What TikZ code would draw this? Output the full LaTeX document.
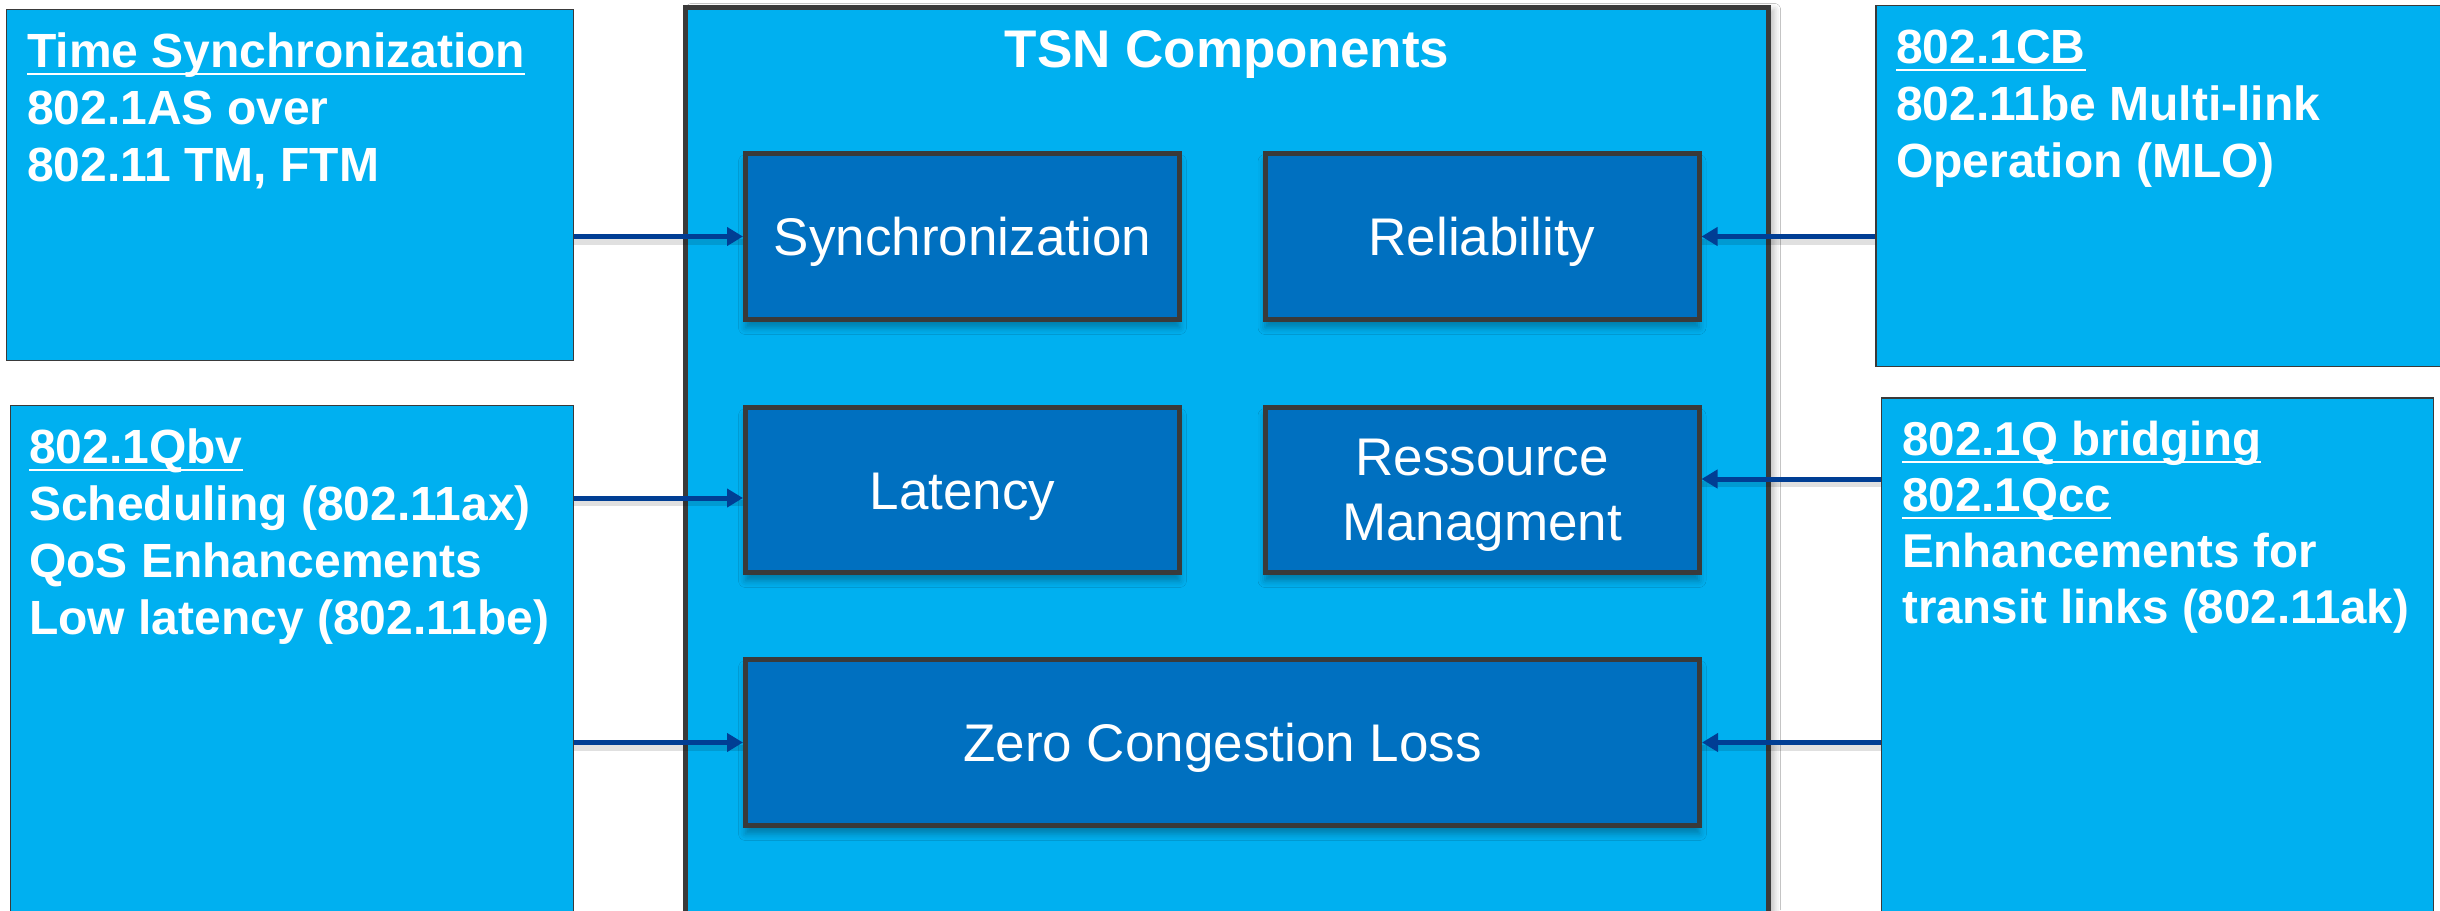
\documentclass[tikz,border=0pt]{standalone}
\usepackage{fontspec}
\setmainfont{Liberation Sans}
\usetikzlibrary{arrows.meta,shadows.blur}
\definecolor{lightblue}{HTML}{00B0F0}
\definecolor{darkblue}{HTML}{0070C0}
\definecolor{bordergray}{HTML}{3A3A3A}
\definecolor{arrowblue}{HTML}{003E94}
\newlength\ulw
\newcommand\myul[1]{\settowidth\ulw{#1}\rlap{\rule[-8pt]{\ulw}{2.5pt}}#1}
\begin{document}
\begin{tikzpicture}[x=1pt,y=-1pt,
  outerbox/.style={draw=bordergray, line width=1.5pt, fill=lightblue, inner sep=0pt},
  mainbox/.style={draw=bordergray, line width=5pt, fill=lightblue, inner sep=0pt,
    blur shadow={shadow xshift=6pt, shadow yshift=-2pt, shadow blur radius=6pt, shadow opacity=25}},
  compbox/.style={draw=bordergray, line width=5pt, fill=darkblue, text=white,
    font=\fontsize{53}{65}\selectfont, align=center, minimum width=434pt,
    minimum height=166pt, inner sep=0pt,
    blur shadow={shadow xshift=0pt, shadow yshift=-8pt, shadow blur radius=7pt, shadow opacity=30}},
  oneline/.style={text height=38pt, text depth=0pt},
  listtext/.style={anchor=base west, inner sep=0pt, text=white, font=\fontsize{48}{57}\selectfont\bfseries},
  titletext/.style={anchor=base, inner sep=0pt, text=white, font=\fontsize{53}{60}\selectfont\bfseries},
  arr/.style={draw=arrowblue, line width=5pt, -{Triangle[length=16pt,width=18pt]},
    preaction={draw=black, draw opacity=0.12, line width=6pt, transform canvas={yshift=-5pt}, -}}
]
\useasboundingbox (0,0) rectangle (2440,910);
\fill[white] (0,0) rectangle (2440,910);
\clip (0,0) rectangle (2440,910);

% outer boxes
\node[outerbox, minimum width=567pt, minimum height=351pt] (tl) at (290,185) {};
\node[outerbox, minimum width=563pt, minimum height=524pt] (bl) at (292,667.5) {};
\node[outerbox, minimum width=574pt, minimum height=361pt] (tr) at (2163,186) {};
\node[outerbox, minimum width=552pt, minimum height=532pt] (br) at (2157.5,664) {};

% central box
\node[mainbox, minimum width=1083pt, minimum height=922pt] (tsn) at (1227,468.5) {};
\node[titletext] (title) at (1227,67) {TSN Components};

% components
\node[compbox, oneline] (sync) at (962.5,236.5) {Synchronization};
\node[compbox, oneline] (rel) at (1482,236.5) {Reliability};
\node[compbox, oneline, minimum height=165pt] (lat) at (962.5,490) {Latency};
\node[compbox, minimum height=165pt, text depth=0pt] (res) at (1482,490) {Ressource\\Managment};
\node[compbox, oneline, minimum width=954pt] (zero) at (1222.5,742.5) {Zero Congestion Loss};

% texts of outer boxes
\node[listtext] (tltext) at (27,67) {\begin{tabular}[t]{@{}l@{}}\myul{Time Synchronization}\\802.1AS over\\802.11 TM, FTM\end{tabular}};
\node[listtext] (bltext) at (29,463) {\begin{tabular}[t]{@{}l@{}}\myul{802.1Qbv}\\Scheduling (802.11ax)\\QoS Enhancements\\Low latency (802.11be)\end{tabular}};
\node[listtext] (trtext) at (1896,63) {\begin{tabular}[t]{@{}l@{}}\myul{802.1CB}\\802.11be Multi-link\\Operation (MLO)\end{tabular}};
\node[listtext, font=\fontsize{47.5}{56}\selectfont\bfseries] (brtext) at (1902,455) {\begin{tabular}[t]{@{}l@{}}\myul{802.1Q bridging}\\\myul{802.1Qcc}\\Enhancements for\\transit links (802.11ak)\end{tabular}};

% arrows
\coordinate (latin) at ([yshift=-8pt]lat.west);
\coordinate (resin) at ([yshift=11pt]res.east);
\draw[arr] (tl.east |- sync.west) -- (sync.west);
\draw[arr] (bl.east |- latin) -- (latin);
\draw[arr] (bl.east |- zero.west) -- (zero.west);
\draw[arr] (tr.west |- rel.east) -- (rel.east);
\draw[arr] (br.west |- resin) -- (resin);
\draw[arr] (br.west |- zero.east) -- (zero.east);
\end{tikzpicture}
\end{document}
